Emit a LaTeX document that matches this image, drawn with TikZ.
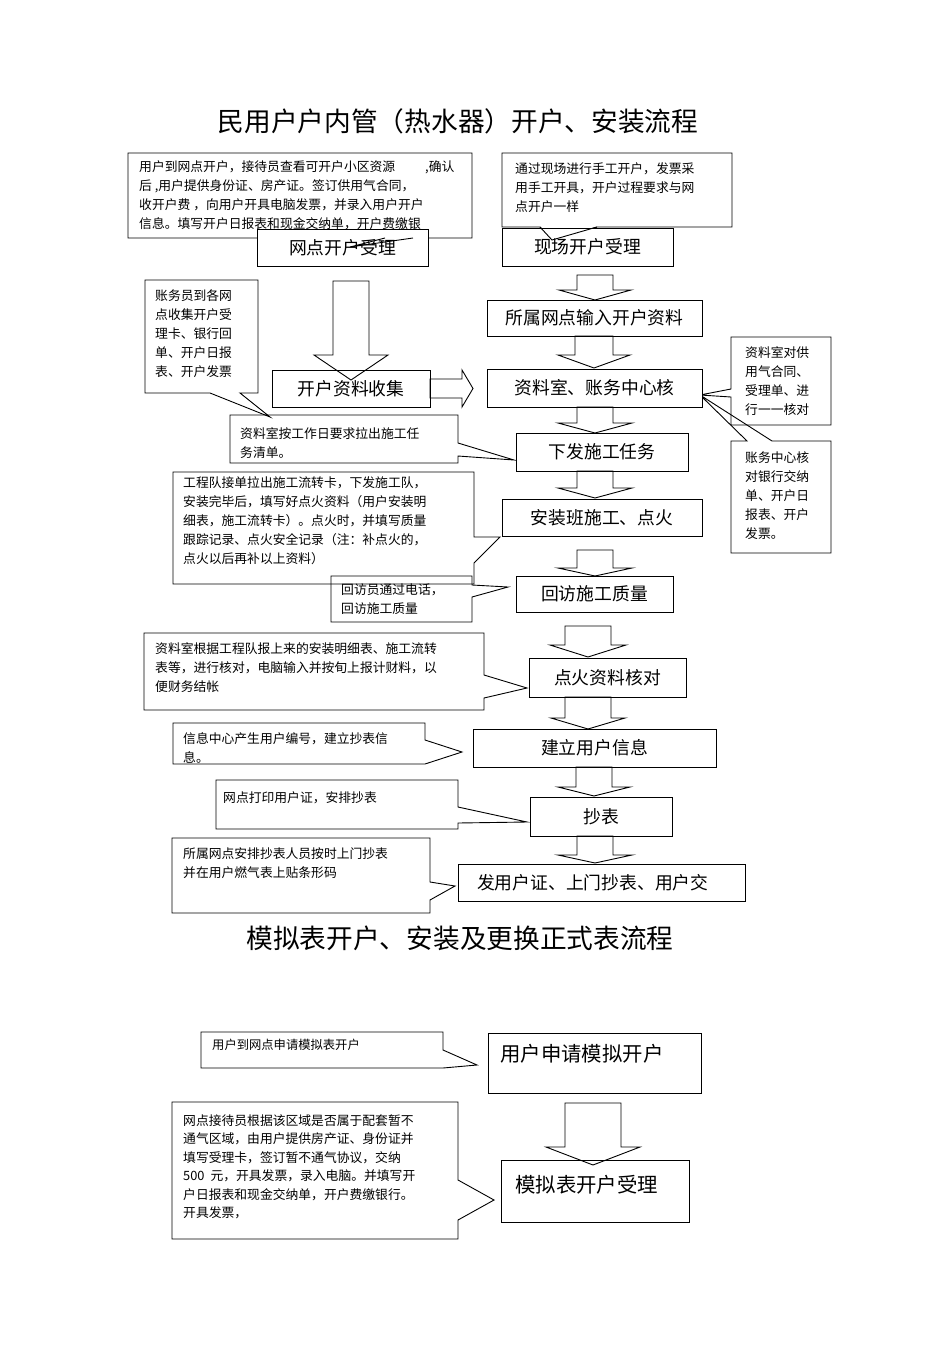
\documentclass[tikz,border=0pt]{standalone}
\usepackage{fontspec}
\newfontfamily\cjk{Noto Sans CJK SC}
\newcommand\ts{\rule{0pt}{.9em}}
\newcommand\bdown[6]{%
  \draw[barrow] (#1-#5,#2) -- (#1+#5,#2) -- (#1+#5,#3) -- (#1+#6,#3) -- (#1,#4) -- (#1-#6,#3) -- (#1-#5,#3) -- cycle;}
\begin{document}
\begin{tikzpicture}[x=1pt,y=-1pt,
  box/.style={draw, line width=0.9pt, fill=white, inner sep=0pt, font=\cjk\fontsize{17.8}{20}\selectfont},
  callout/.style={draw, line width=0.9pt, line join=miter},
  ctext/.style={anchor=north west, inner sep=0pt, align=left, font=\cjk\fontsize{12.8}{19}\selectfont},
  btext/.style={anchor=west, inner sep=0pt, font=\cjk\fontsize{20.4}{24}\selectfont},
  barrow/.style={draw, line width=0.9pt, line join=miter},
  titletext/.style={inner sep=0pt, font=\cjk\fontsize{26.7}{30}\selectfont}]

\fill[white] (0,0) rectangle (950,1346);
\useasboundingbox (0,0) rectangle (950,1346);

% titles
\node[titletext] (title1) at (458,121) {民用户户内管（热水器）开户、安装流程};
\node[titletext] (title2) at (460,938) {模拟表开户、安装及更换正式表流程};

% callout outlines
\draw[callout] (128,153) -- (472,153) -- (472,238) -- (413,238) -- (350,247) -- (385,238) -- (128,238) -- cycle;
\draw[callout] (502,153) -- (732,153) -- (732,227) -- (597,227) -- (552,240) -- (540,227) -- (502,227) -- cycle;
\draw[callout] (731,337) -- (831,337) -- (831,425) -- (731,425) -- (731,397) -- (700,395) -- (731,389) -- cycle;
\draw[callout] (731,441) -- (747,441) -- (700,395) -- (772,441) -- (831,441) -- (831,553) -- (731,553) -- cycle;
\draw[callout] (145,280) -- (258,280) -- (258,393) -- (240,393) -- (270,417) -- (210,393) -- (145,393) -- cycle;
\draw[callout] (230,415) -- (458,415) -- (458,443) -- (514,460) -- (458,456) -- (458,463) -- (230,463) -- cycle;
\draw[callout] (173,472) -- (474,472) -- (474,537) -- (500,537) -- (474,563) -- (474,584) -- (173,584) -- cycle;
\draw[callout] (331,576) -- (472,576) -- (472,585) -- (508,587) -- (472,597) -- (472,622) -- (331,622) -- cycle;
\draw[callout] (144,633) -- (484,633) -- (484,675) -- (527,688) -- (484,698) -- (484,710) -- (144,710) -- cycle;
\draw[callout] (173,723) -- (425,723) -- (425,740) -- (462,752) -- (425,764) -- (173,764) -- cycle;
\draw[callout] (216,780) -- (458,780) -- (458,807) -- (527,822) -- (458,823) -- (458,829) -- (216,829) -- cycle;
\draw[callout] (172,838) -- (430,838) -- (430,882) -- (455,886) -- (430,900) -- (430,913) -- (172,913) -- cycle;
\draw[callout] (201,1032) -- (443,1032) -- (443,1050) -- (477,1065) -- (443,1068) -- (201,1068) -- cycle;
\draw[callout] (172,1102) -- (458,1102) -- (458,1180) -- (494,1200) -- (458,1220) -- (458,1239) -- (172,1239) -- cycle;

% process boxes
\node[box, minimum width=171, minimum height=37] (b1) at (342.5,247.5) {网点开户受理};
\node[box, minimum width=171, minimum height=38] (b2) at (587.5,247) {现场开户受理};
\node[box, minimum width=215, minimum height=36] (b3) at (594.5,318) {所属网点输入开户资料};
\node[box, minimum width=215, minimum height=38] (b4) at (594.5,388) {资料室、账务中心核};
\node[box, minimum width=158, minimum height=37] (b5) at (351,388.5) {开户资料收集};
\node[box, minimum width=172, minimum height=38] (b6) at (602,452) {下发施工任务};
\node[box, minimum width=200, minimum height=37] (b7) at (602,517.5) {安装班施工、点火};
\node[box, minimum width=157, minimum height=36] (b8) at (594.5,594) {回访施工质量};
\node[box, minimum width=157, minimum height=39] (b9) at (607.5,677.5) {点火资料核对};
\node[box, minimum width=243, minimum height=38] (b10) at (594.5,748) {建立用户信息};
\node[box, minimum width=142, minimum height=39] (b11) at (601,816.5) {抄表};
\node[box, minimum width=287, minimum height=37, text width=249, align=left] (b12) at (601.5,882.5) {发用户证、上门抄表、用户交};
\node[box, minimum width=213, minimum height=60] (b13) at (594.5,1063) {};
\node[btext] (b13t) at (500,1054) {用户申请模拟开户};
\node[box, minimum width=188, minimum height=62] (b14) at (595,1191) {};
\node[btext] (b14t) at (515,1185) {模拟表开户受理};

% tails that cross the boxes
\draw[callout] (413,238) -- (350,247) -- (385,238);
\draw[callout] (597,227) -- (552,240) -- (540,227);

% block arrows
\bdown{595}{275}{290}{300}{18}{36}
\bdown{594}{336}{355}{368}{19}{36}
\bdown{351}{281}{355}{380}{18}{37}
\bdown{595}{407}{423}{433}{18}{37}
\bdown{595}{471}{488}{498}{18}{37}
\bdown{595}{550}{568}{576}{18}{37}
\bdown{588}{626}{645}{657}{23}{38}
\bdown{588}{697}{718}{729}{23}{37}
\bdown{594}{767}{787}{796}{18}{36}
\bdown{595}{836}{855}{863}{18}{37}
\bdown{593}{1103}{1147}{1165}{28}{47}
\draw[barrow] (430,379) -- (462,379) -- (462,370) -- (473,388.5) -- (462,407) -- (462,398) -- (430,398) -- cycle;

% callout texts
\node[ctext] (t1) at (139,159.3) {\ts 用户到网点开户，接待员查看可开户小区资源\hspace{30pt},确认\\后 ,用户提供身份证、房产证。签订供用气合同，\\收开户费 ，向用户开具电脑发票，并录入用户开户\\信息。填写开户日报表和现金交纳单，开户费缴银};
\node[ctext] (t2) at (515,161.3) {\ts 通过现场进行手工开户，发票采\\用手工开具，开户过程要求与网\\点开户一样};
\node[ctext] (t3) at (745,345.3) {\ts 资料室对供\\用气合同、\\受理单、进\\行一一核对};
\node[ctext] (t4) at (745,450.3) {\ts 账务中心核\\对银行交纳\\单、开户日\\报表、开户\\发票。};
\node[ctext] (t5) at (155,288.3) {\ts 账务员到各网\\点收集开户受\\理卡、银行回\\单、开户日报\\表、开户发票};
\node[ctext] (t6) at (240,426.3) {\ts 资料室按工作日要求拉出施工任\\务清单。};
\node[ctext] (t7) at (183,475.3) {\ts 工程队接单拉出施工流转卡，下发施工队，\\安装完毕后，填写好点火资料（用户安装明\\细表，施工流转卡）。点火时，并填写质量\\跟踪记录、点火安全记录（注：补点火的，\\点火以后再补以上资料）};
\node[ctext] (t8) at (341,582.3) {\ts 回访员通过电话，\\回访施工质量};
\node[ctext] (t9) at (155,641.3) {\ts 资料室根据工程队报上来的安装明细表、施工流转\\表等，进行核对，电脑输入并按旬上报计财料，以\\便财务结帐};
\node[ctext] (t10) at (183,731.3) {\ts 信息中心产生用户编号，建立抄表信\\息。};
\node[ctext] (t11) at (223,790.3) {\ts 网点打印用户证，安排抄表};
\node[ctext] (t12) at (183,846.3) {\ts 所属网点安排抄表人员按时上门抄表\\并在用户燃气表上贴条形码};
\node[ctext, font=\cjk\fontsize{12.3}{19}\selectfont] (t13) at (212,1038.5) {\ts 用户到网点申请模拟表开户};
\node[ctext, font=\cjk\fontsize{12.8}{18.5}\selectfont] (t14) at (183,1113.3) {\ts 网点接待员根据该区域是否属于配套暂不\\通气区域，由用户提供房产证、身份证并\\填写受理卡，签订暂不通气协议，交纳\\500\hspace{6pt}元，开具发票，录入电脑。并填写开\\户日报表和现金交纳单，开户费缴银行。\\开具发票，};
\end{tikzpicture}
\end{document}
